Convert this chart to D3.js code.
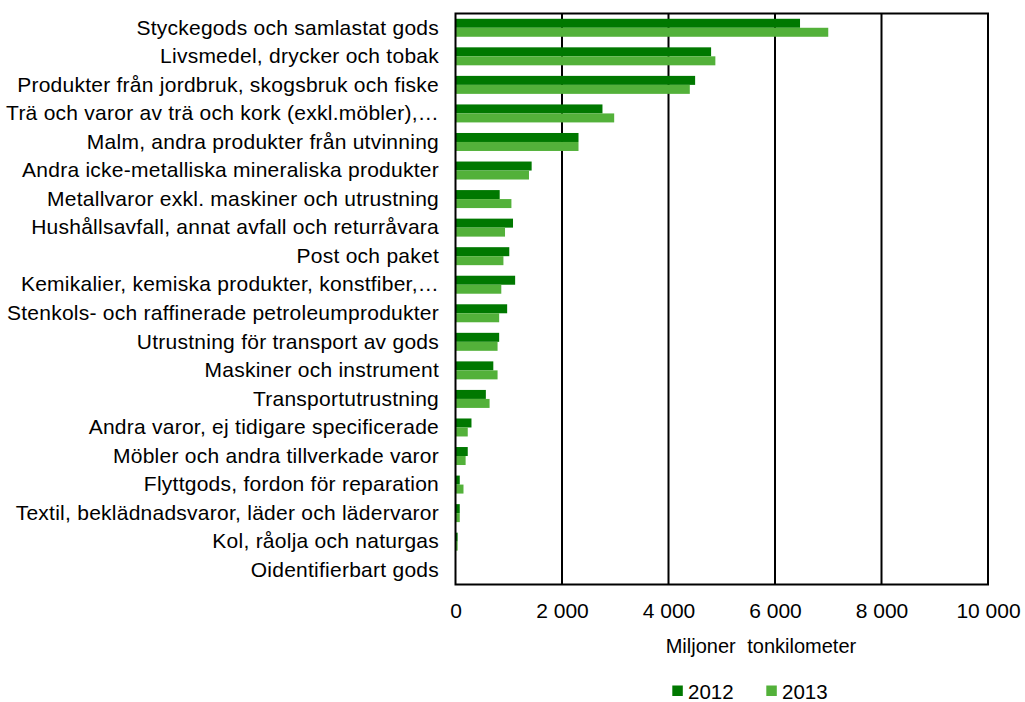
<!DOCTYPE html>
<html>
<head>
<meta charset="utf-8">
<script src="https://cdn.jsdelivr.net/npm/d3@7"></script>
<style>
  body { margin: 0; background: #fff; }
  text { font-family: "Liberation Sans", Arial, sans-serif; fill: #000; }
</style>
</head>
<body>
<div id="chart"></div>
<script>
// categories, top to bottom
const categories = [
    "Styckegods och samlastat gods",
    "Livsmedel, drycker och tobak",
    "Produkter från jordbruk, skogsbruk och fiske",
    "Trä och varor av trä och kork (exkl.möbler),…",
    "Malm, andra produkter från utvinning",
    "Andra icke-metalliska mineraliska produkter",
    "Metallvaror exkl. maskiner och utrustning",
    "Hushållsavfall, annat avfall och returråvara",
    "Post och paket",
    "Kemikalier, kemiska produkter, konstfiber,…",
    "Stenkols- och raffinerade petroleumprodukter",
    "Utrustning för transport av gods",
    "Maskiner och instrument",
    "Transportutrustning",
    "Andra varor, ej tidigare specificerade",
    "Möbler och andra tillverkade varor",
    "Flyttgods, fordon för reparation",
    "Textil, beklädnadsvaror, läder och lädervaror",
    "Kol, råolja och naturgas",
    "Oidentifierbart gods"
];

const series = ["2012", "2013"];
const values2012 = [6470, 4800, 4500, 2760, 2310, 1430, 830, 1080, 1010, 1120, 970, 820, 710, 570, 300, 230, 80, 80, 40, 0];
const values2013 = [7000, 4880, 4400, 2980, 2310, 1380, 1050, 930, 900, 860, 820, 790, 790, 640, 230, 190, 150, 80, 40, 0];
const xTicks = [0, 2000, 4000, 6000, 8000, 10000];
const colors = { "2012": "#007800", "2013": "#53B13A" };

const width = 1025, height = 702;
const margin = { top: 13.5, right: 37, bottom: 117.5, left: 455.5 };

const svg = d3.select("#chart").append("svg")
    .attr("width", width)
    .attr("height", height);

let x = d3.scaleLinear().domain([0, 10000]).range([margin.left, width - margin.right]);
let y = d3.scaleBand().domain(categories).range([margin.top, height - margin.bottom])
    .paddingInner(0.37).paddingOuter(0.185);
let ySeries = d3.scaleBand().domain(series).range([0, y.bandwidth()]);

// gridlines
svg.append("g")
    .selectAll("line")
    .data(xTicks.slice(1))
    .enter().append("line")
    .attr("x1", d => x(d)).attr("x2", d => x(d))
    .attr("y1", margin.top).attr("y2", height - margin.bottom)
    .attr("stroke", "#000").attr("stroke-width", 2);

// bars
let rows = categories.map((c, i) => ({ cat: c, vals: [values2012[i], values2013[i]] }));
let group = svg.append("g").selectAll("g")
    .data(rows)
    .enter().append("g")
    .attr("transform", d => "translate(0," + y(d.cat) + ")");

group.selectAll("rect")
    .data(d => d.vals.map((v, j) => ({ key: series[j], value: v })))
    .enter().append("rect")
    .attr("x", x(0))
    .attr("y", d => ySeries(d.key))
    .attr("width", d => x(d.value) - x(0))
    .attr("height", ySeries.bandwidth())
    .attr("fill", d => colors[d.key]);

// plot border
svg.append("rect")
    .attr("x", x(0)).attr("y", margin.top)
    .attr("width", x(10000) - x(0)).attr("height", height - margin.bottom - margin.top)
    .attr("fill", "none").attr("stroke", "#000").attr("stroke-width", 2);

// category labels
let yAxis = d3.axisLeft(y).tickSize(0).tickPadding(16.5);
svg.append("g")
    .attr("transform", "translate(" + x(0) + ",0)")
    .call(yAxis)
    .call(g => g.select(".domain").remove())
    .selectAll("text")
    .attr("font-size", 21)
    .attr("letter-spacing", 0.25)
    .attr("font-family", "Liberation Sans, Arial, sans-serif");

// x axis ticks
let fmt = d => d3.format(",")(d).replace(/,/g, " ");
let xAxis = d3.axisBottom(x).tickValues(xTicks).tickFormat(fmt).tickSize(0);
svg.append("g")
    .attr("transform", "translate(0," + (height - margin.bottom) + ")")
    .call(xAxis)
    .call(g => g.select(".domain").remove())
    .selectAll("text")
    .attr("dy", null)
    .attr("y", 618.3 - (height - margin.bottom))
    .attr("font-size", 21)
    .attr("font-family", "Liberation Sans, Arial, sans-serif");

// axis title
svg.append("text")
    .attr("x", 665.7).attr("y", 653.3)
    .attr("font-size", 20)
    .attr("word-spacing", 6)
    .text("Miljoner tonkilometer");

// legend
let legend = svg.append("g").selectAll("g")
    .data(series)
    .enter().append("g")
    .attr("transform", (d, i) => "translate(" + (672.3 + i * 94) + ",685.5)");
legend.append("rect")
    .attr("width", 10.5).attr("height", 10.5)
    .attr("fill", d => colors[d]);
legend.append("text")
    .attr("x", 15.7).attr("y", 13)
    .attr("font-size", 20.5)
    .text(d => d);
</script>
</body>
</html>
